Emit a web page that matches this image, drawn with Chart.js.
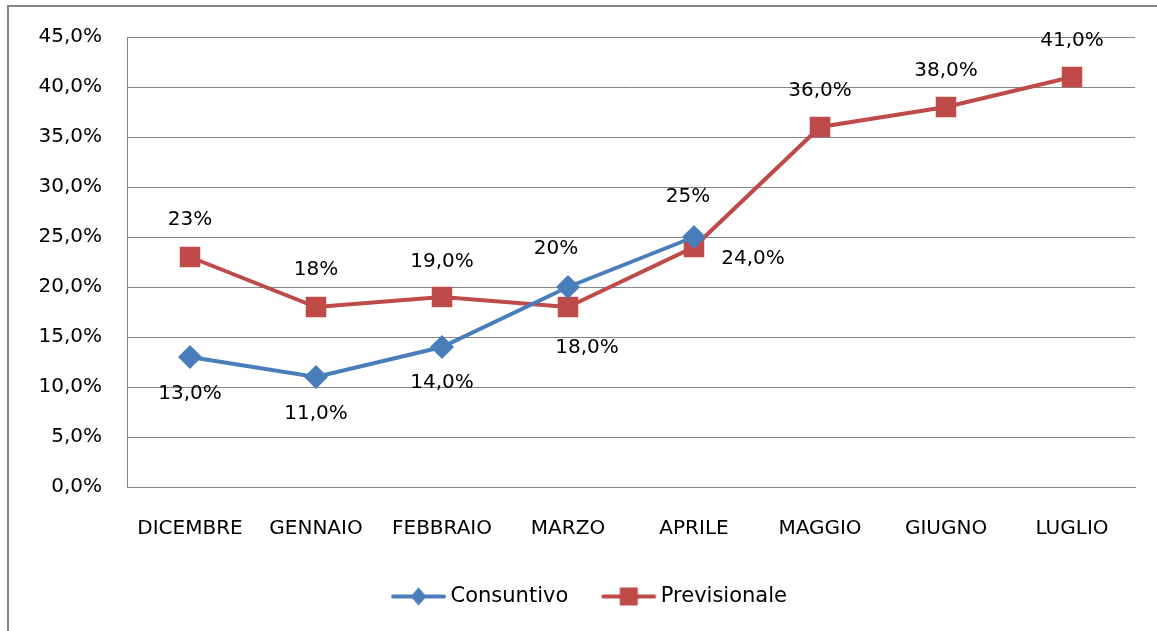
<!DOCTYPE html>
<html>
<head>
<meta charset="utf-8">
<script src="https://cdn.jsdelivr.net/npm/chart.js@4.4.1/dist/chart.umd.min.js"></script>
<style>
  html, body { margin: 0; padding: 0; background: #fff; }
  #wrap { width: 1157px; height: 631px; position: relative; }
</style>
</head>
<body>
<div id="wrap"><canvas id="chart" width="1157" height="631"></canvas></div>
<script>
const months = ["DICEMBRE", "GENNAIO", "FEBBRAIO", "MARZO", "APRILE", "MAGGIO", "GIUGNO", "LUGLIO"];
const consuntivo = [13, 11, 14, 20, 25, null, null, null];
const previsionale = [23, 18, 19, 18, 24, 36, 38, 41];
// labels as printed on the original (mixed formats)
const consLabels = ["13,0%", "11,0%", "14,0%", "20%", "25%", "", "", ""];
const prevLabels = ["23%", "18%", "19,0%", "18,0%", "24,0%", "36,0%", "38,0%", "41,0%"];

const BLUE = '#4A7EBB';
const RED = '#BE4B48';
const GRID = '#868686';
const FONT = "'DejaVu Sans', sans-serif";

// legend swatch: line with marker, wider than the box so text sits close
function swatch(color, shape) {
    const c = document.createElement('canvas');
    c.width = 62; c.height = 22;
    const g = c.getContext('2d');
    g.strokeStyle = color;
    g.lineWidth = 4;
    g.lineCap = 'round';
    g.beginPath(); g.moveTo(8, 11); g.lineTo(59, 11); g.stroke();
    g.fillStyle = color;
    g.beginPath();
    if (shape === 'diamond') {
        g.moveTo(33.5, 2); g.lineTo(41.5, 11); g.lineTo(33.5, 20); g.lineTo(25.5, 11);
    } else {
        g.rect(24.5, 2, 18, 18);
    }
    g.fill();
    return c;
}

// outer frame of the original picture
const framePlugin = {
    id: 'frame',
    beforeDraw(chart) {
        const ctx = chart.ctx;
        ctx.save();
        ctx.strokeStyle = GRID;
        ctx.lineWidth = 2;
        ctx.beginPath();
        ctx.moveTo(8, 631);
        ctx.lineTo(8, 6);
        ctx.lineTo(1157, 6);
        ctx.stroke();
        ctx.restore();
    },
    afterLayout(chart) {
        // legend sits a little right of centre in the original
        chart.legend.left += 22;
        chart.legend.right += 22;
    }
};

// data labels with per point offsets
const valueLabels = {
    id: 'valueLabels',
    afterDatasetsDraw(chart, args, opts) {
        const ctx = chart.ctx;
        ctx.save();
        ctx.font = '20px ' + FONT;
        ctx.fillStyle = '#000';
        ctx.textAlign = 'center';
        ctx.textBaseline = 'middle';
        chart.data.datasets.forEach((ds, di) => {
            const meta = chart.getDatasetMeta(di);
            const offs = opts.offsets[di];
            meta.data.forEach((pt, i) => {
                const txt = ds.valueText[i];
                if (!txt || ds.data[i] == null) return;
                ctx.fillText(txt, pt.x + offs[i][0], pt.y + offs[i][1]);
            });
        });
        ctx.restore();
    }
};

const ctx = document.getElementById("chart").getContext("2d");

new Chart(ctx, {
    type: 'line',
    data: {
        labels: months,
        datasets: [{
            label: 'Consuntivo',
            data: consuntivo,
            valueText: consLabels,
            borderColor: BLUE,
            backgroundColor: BLUE,
            borderWidth: 4,
            pointStyle: 'rectRot',
            pointRadius: 12,
            pointBorderWidth: 0,
            spanGaps: false,
            fill: false
        }, {
            label: 'Previsionale',
            data: previsionale,
            valueText: prevLabels,
            borderColor: RED,
            backgroundColor: RED,
            borderWidth: 4,
            pointStyle: 'rect',
            pointRadius: 14.5,
            pointBorderWidth: 0,
            fill: false
        }]
    },
    options: {
        responsive: false,
        animation: false,
        layout: { padding: { left: 0, right: 22, top: 36, bottom: 14 } },
        scales: {
            x: {
                offset: true,
                grid: { display: false, drawTicks: false },
                border: { display: true, color: GRID, width: 1 },
                ticks: { color: '#000', font: { family: FONT, size: 20 }, padding: 30, maxRotation: 0 },
                afterFit(scale) { scale.height = 65; }
            },
            y: {
                min: 0,
                max: 45,
                grid: { color: GRID, lineWidth: 1, drawTicks: false },
                border: { display: true, color: GRID, width: 1 },
                ticks: {
                    stepSize: 5,
                    color: '#000',
                    padding: 25,
                    font: { family: FONT, size: 20 },
                    callback: v => v.toFixed(1).replace('.', ',') + '%'
                },
                afterFit(scale) { scale.width = 127; }
            }
        },
        plugins: {
            legend: {
                position: 'bottom',
                labels: {
                    color: '#000',
                    font: { family: FONT, size: 21 },
                    usePointStyle: true,
                    pointStyleWidth: 48,
                    padding: 34,
                    generateLabels(chart) {
                        return chart.data.datasets.map((ds, i) => ({
                            text: ds.label,
                            pointStyle: swatch(ds.borderColor, i === 0 ? 'diamond' : 'square'),
                            fillStyle: ds.borderColor,
                            strokeStyle: ds.borderColor,
                            lineWidth: 0,
                            fontColor: '#000',
                            datasetIndex: i
                        }));
                    }
                }
            },
            tooltip: { enabled: false },
            valueLabels: {
                offsets: [
                    [[0, 37], [0, 37], [0, 36], [-12, -38], [-6, -40], [0, 0], [0, 0], [0, 0]],
                    [[0, -37], [0, -37], [0, -35], [19, 41], [59, 12], [0, -36], [0, -36], [0, -36]]
                ]
            }
        }
    },
    plugins: [framePlugin, valueLabels]
});
</script>
</body>
</html>
